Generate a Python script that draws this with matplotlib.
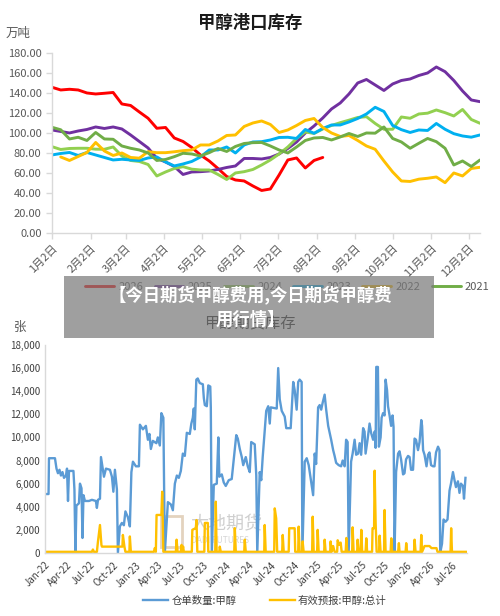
import matplotlib
matplotlib.use('Agg')
import matplotlib.pyplot as plt
import matplotlib.dates as mdates
from matplotlib.patches import Rectangle
from matplotlib.ticker import FuncFormatter
import numpy as np
import pandas as pd

plt.rcParams['font.family'] = ['Noto Sans CJK SC', 'DejaVu Sans']

# ---- 图1: 甲醇港口库存 (万吨), 周度 ----
semanas = pd.date_range('2021-01-02', periods=50, freq='7D')
anos = ['2026', '2025', '2024', '2023', '2022', '2021']
cores = ['#FF0000', '#7030A0', '#92D050', '#00B0F0', '#FFC000', '#70AD47']

s2026 = [145.7, 143.0, 143.7, 143.0, 140.0, 139.0, 139.7, 140.5, 129.0, 127.5,
         121.0, 114.7, 104.7, 105.5, 95.0, 91.5, 85.5, 78.0, 72.0, 64.5,
         56.5, 53.0, 52.0, 47.0, 42.5, 44.0, 58.0, 73.0, 75.0, 65.0,
         72.5, 75.5]
s2025 = [103, 101.5, 100, 102, 103.5, 106, 104.5, 106, 104, 98,
         91.5, 85, 74.7, 71, 66.5, 58.5, 61, 61.3, 62, 63.5,
         65.5, 67, 74.5, 74.5, 74, 75.5, 79, 84.5, 91, 100,
         107, 115, 124, 130, 139, 150, 153.5, 148, 142.5, 149,
         152.5, 154, 157.5, 160, 166, 161.3, 152.5, 142, 133, 131.3]
s2024 = [86.3, 83.5, 84.5, 84.7, 84.7, 83.8, 83.7, 86, 77, 72.5,
         71.5, 68.5, 57, 61, 64.5, 66.3, 63.8, 63, 63, 58.5,
         53.5, 60, 61.3, 63.5, 68, 73, 79, 86, 94.5, 101,
         99.5, 104, 107.5, 110.3, 112.8, 115.5, 116.3, 109.5, 103.7, 103.7,
         116, 114.7, 119, 119.8, 123, 120.3, 117, 123.5, 113.5, 109.7]
s2023 = [78, 79.5, 80.5, 77.5, 80.5, 78, 75.5, 73, 73.7, 73,
         72.5, 75, 76, 71, 67, 69, 71.5, 76, 83, 83,
         86, 80, 88, 91, 91.3, 93, 95.5, 95.7, 94.5, 103.5,
         99.7, 104.5, 108, 108, 111, 114.5, 119, 125.7, 121.5, 107.5,
         103.3, 100.5, 103, 102.5, 109.5, 103.7, 99.3, 97, 95.8, 98]
s2022 = [np.nan, 76, 72.5, 76.5, 80.5, 90.5, 82, 77.5, 80, 75.5,
         74.8, 81.3, 80.3, 80.3, 81.2, 82.3, 83, 88, 88, 92,
         97.5, 98, 106.5, 110, 112, 108.5, 100.5, 103, 107.5, 112.5,
         114.5, 105.5, 100, 96.5, 97.5, 92.5, 87, 83.7, 72, 61,
         52, 51.5, 53.8, 54.7, 56, 50.3, 60, 57, 64.5, 65.7]
s2021 = [105.7, 103.2, 94, 95.7, 92.5, 100.5, 94, 93.7, 87, 84.7,
         83, 80, 72.5, 73.5, 76.3, 79.7, 79, 77, 80.3, 84.5,
         81.5, 86.5, 89.5, 90.3, 90.5, 87, 83, 80, 86, 92.5,
         95, 95.5, 93, 96, 99.5, 96.5, 100, 99.8, 106, 94.5,
         91, 84.7, 89.7, 94.5, 91.3, 84.7, 68, 72, 66.5, 73]
series = [s2026, s2025, s2024, s2023, s2022, s2021]

# ---- 图2: 甲醇期货库存 (张) ----
inicio = pd.Timestamp('2022-01-01')
# anos decorridos desde jan-22
recibo_t = [0.000, 0.039, 0.044, 0.110, 0.127, 0.143, 0.160, 0.176, 0.193, 0.210,
            0.232, 0.243, 0.254, 0.265, 0.314, 0.325, 0.336, 0.347, 0.375, 0.386,
            0.403, 0.414, 0.425, 0.441, 0.485, 0.518, 0.562, 0.573, 0.585, 0.607,
            0.618, 0.634, 0.651, 0.673, 0.717, 0.739, 0.755, 0.772, 0.794, 0.805,
            0.827, 0.849, 0.871, 0.888, 0.915, 0.937, 0.954, 0.971, 1.004, 1.037,
            1.048, 1.081, 1.114, 1.136, 1.153, 1.169, 1.191, 1.230, 1.246, 1.268,
            1.285, 1.307, 1.323, 1.357, 1.390, 1.412, 1.434, 1.456, 1.478, 1.500,
            1.522, 1.544, 1.566, 1.599, 1.616, 1.632, 1.643, 1.654, 1.671, 1.687,
            1.709, 1.743, 1.754, 1.765, 1.787, 1.803, 1.825, 1.831, 1.842, 1.864,
            1.897, 1.914, 1.925, 1.952, 1.974, 1.996, 2.029, 2.062, 2.112, 2.129,
            2.151, 2.173, 2.189, 2.217, 2.239, 2.261, 2.277, 2.316, 2.333, 2.344,
            2.371, 2.388, 2.404, 2.443, 2.465, 2.482, 2.493, 2.559, 2.575, 2.592,
            2.614, 2.647, 2.664, 2.713, 2.741, 2.757, 2.779, 2.796, 2.812, 2.834,
            2.842, 2.868, 2.890, 2.912, 2.939, 2.961, 2.978, 2.994, 3.016, 3.033,
            3.050, 3.066, 3.088, 3.105, 3.127, 3.160, 3.182, 3.198, 3.215, 3.243,
            3.270, 3.287, 3.309, 3.325, 3.342, 3.353, 3.380, 3.397, 3.419, 3.436,
            3.458, 3.474, 3.491, 3.513, 3.529, 3.540, 3.562, 3.584, 3.601, 3.623,
            3.640, 3.651, 3.658, 3.676, 3.687, 3.706, 3.717, 3.733, 3.750, 3.761,
            3.777, 3.788, 3.805, 3.822, 3.838, 3.849, 3.860, 3.877, 3.899, 3.915,
            3.932, 3.954, 3.970, 3.987, 4.009, 4.026, 4.042, 4.064, 4.081, 4.097,
            4.119, 4.136, 4.155, 4.164, 4.175, 4.191, 4.213, 4.230, 4.246, 4.263,
            4.285, 4.301, 4.318, 4.340, 4.356, 4.364, 4.384, 4.401, 4.423, 4.445,
            4.467, 4.483, 4.505, 4.522, 4.538, 4.560, 4.577, 4.593, 4.616, 4.627,
            4.643]
recibo_v = [5100, 5100, 8200, 8200, 7300, 6900, 7200, 6700, 7000, 6500,
            6700, 7300, 4500, 7100, 7100, 5500, 0, 4100, 4300, 6000,
            5600, 1300, 5000, 4500, 4500, 4600, 4500, 3900, 4600, 4700,
            8300, 7500, 6600, 7300, 7200, 6600, 5300, 7200, 5500, 0,
            2300, 2600, 2400, 3600, 3100, 2300, 7000, 7900, 7500, 7500,
            11100, 10700, 11000, 9800, 10300, 9000, 9700, 9500, 10000, 9300,
            12100, 11700, 0, 4400, 4200, 3700, 6000, 6700, 6500, 7100,
            8600, 8400, 10400, 10300, 11200, 11700, 12500, 10700, 15000, 15100,
            14700, 14600, 13400, 12800, 12700, 14500, 14400, 12600, 0, 5900,
            6000, 10000, 6600, 6800, 6100, 5800, 6300, 6400, 10200, 9900,
            9000, 8300, 7600, 8300, 7500, 7000, 9600, 9400, 6700, 0,
            7000, 6300, 8300, 12300, 12700, 11200, 12600, 12500, 16000, 13300,
            12300, 11800, 10800, 10800, 14800, 14100, 12400, 14800, 15000, 14800,
            0, 7900, 8200, 7600, 6200, 5000, 8600, 7700, 12600, 12800,
            12400, 13000, 13700, 12400, 11000, 9800, 8900, 8400, 7800, 7600,
            7500, 8000, 7500, 9800, 9600, 0, 7900, 8600, 9800, 8500,
            8600, 9500, 8500, 10800, 10500, 8600, 9800, 11200, 10400, 9800,
            10500, 9100, 16100, 16100, 9200, 10000, 11700, 12100, 11900, 15000,
            14100, 12700, 11900, 11000, 11900, 10900, 0, 7000, 8600, 8800,
            8100, 6800, 6900, 8100, 8400, 8300, 7200, 7200, 9900, 9800,
            8900, 9600, 11500, 11000, 8900, 8500, 7500, 8500, 8700, 7600,
            7500, 7500, 8700, 9200, 8900, 0, 800, 2900, 2700, 2900,
            5400, 6000, 7000, 6300, 5700, 6200, 5200, 6000, 5800, 4700,
            6500]

previsao_t = [0.000, 0.518, 0.529, 0.540, 0.573, 0.585, 0.607, 0.623, 0.629, 0.855,
              0.860, 0.877, 0.888, 0.932, 0.937, 0.948, 1.202, 1.213, 1.224, 1.232,
              1.285, 1.294, 1.307, 1.445, 1.453, 1.464, 1.500, 1.508, 1.516, 1.525,
              1.533, 1.621, 1.627, 1.665, 1.673, 1.682, 1.759, 1.765, 1.798, 1.803,
              1.880, 1.886, 1.895, 1.925, 1.930, 1.941, 2.090, 2.096, 2.107, 2.200,
              2.206, 2.217, 2.421, 2.426, 2.437, 2.531, 2.537, 2.553, 2.564, 2.619,
              2.625, 2.636, 2.691, 2.697, 2.757, 2.763, 2.796, 2.801, 2.812, 2.840,
              2.845, 2.856, 2.950, 2.956, 2.967, 3.005, 3.011, 3.022, 3.083, 3.088,
              3.099, 3.149, 3.154, 3.165, 3.182, 3.198, 3.226, 3.232, 3.248, 3.265,
              3.276, 3.320, 3.328, 3.337, 3.392, 3.397, 3.408, 3.447, 3.452, 3.463,
              3.485, 3.493, 3.502, 3.540, 3.548, 3.557, 3.612, 3.617, 3.634, 3.640,
              3.651, 3.662, 3.689, 3.695, 3.706, 3.744, 3.750, 3.761, 3.816, 3.824,
              3.833, 3.899, 3.908, 3.915, 3.982, 3.989, 3.998, 4.075, 4.081, 4.092,
              4.147, 4.155, 4.164, 4.191, 4.246, 4.268, 4.323, 4.334, 4.478, 4.485,
              4.494, 4.654]
previsao_v = [100, 100, 300, 100, 100, 1000, 2420, 700, 550, 550,
              1560, 550, 100, 100, 1430, 100, 100, 430, 100, 3290,
              3290, 5300, 100, 100, 1150, 100, 100, 700, 100, 560,
              100, 100, 2000, 2150, 2850, 100, 100, 2600, 2600, 100,
              100, 4440, 100, 100, 550, 100, 100, 2150, 100, 100,
              1150, 100, 100, 2420, 100, 100, 3860, 2990, 100, 100,
              1560, 100, 100, 2140, 2140, 100, 100, 2280, 100, 100,
              1000, 100, 100, 3140, 100, 100, 2000, 100, 100, 1150,
              100, 100, 1000, 100, 600, 100, 100, 1100, 700, 900,
              100, 100, 1300, 100, 100, 2220, 100, 100, 1150, 100,
              100, 2000, 100, 100, 1270, 100, 100, 2140, 2140, 7120,
              2600, 100, 100, 1500, 100, 100, 3720, 100, 100, 1270,
              100, 100, 850, 100, 100, 850, 100, 100, 1150, 100,
              100, 1560, 100, 600, 600, 420, 420, 100, 100, 2140,
              100, 100]


def para_data(t):
    return inicio + pd.to_timedelta(np.array(t) * 365.25, unit='D')


fig = plt.figure(figsize=(5, 6.16), dpi=100)

# ---------- 上图 ----------
ax1 = fig.add_axes([0.104, 0.6218, 0.856, 0.2922])
for s, c, a in zip(series, cores, anos):
    ax1.plot(semanas[:len(s)], s, color=c, lw=2.1, label=a, solid_capstyle='round')

ax1.set_ylim(0, 180)
ax1.set_yticks(np.arange(0, 181, 20))
ax1.yaxis.set_major_formatter(FuncFormatter(lambda v, p: f'{v:.2f}'))
ax1.set_xlim(semanas[0], semanas[-1])
meses = [pd.Timestamp(2021, m, 2) for m in range(1, 13)]
ax1.set_xticks(meses)
ax1.set_xticklabels([f'{m.month}月2日' for m in meses], rotation=45,
                    ha='right', rotation_mode='anchor')
for lado in ['top', 'right']:
    ax1.spines[lado].set_visible(False)
for lado in ['left', 'bottom']:
    ax1.spines[lado].set_color('#D9D9D9')
    ax1.spines[lado].set_linewidth(1.0)
ax1.tick_params(axis='both', colors='#D9D9D9', labelcolor='#595959',
                labelsize=8, length=4, width=1.0)
ax1.tick_params(axis='x', pad=3)

fig.text(0.5, 0.962, '甲醇港口库存', ha='center', va='center',
         fontsize=12.5, fontweight='bold', color='#1a1a1a')
fig.text(0.012, 0.946, '万吨', ha='left', va='center', fontsize=9, color='#595959')

leg1 = fig.legend(*ax1.get_legend_handles_labels(), loc='center',
                  bbox_to_anchor=(0.575, 0.534), ncol=6, frameon=False,
                  fontsize=8, handlelength=2.6, columnspacing=1.0,
                  handletextpad=0.4, labelcolor='#595959')

# ---------- 下图 ----------
ax2 = fig.add_axes([0.09, 0.1023, 0.844, 0.3377])
ax2.plot(para_data(recibo_t), recibo_v, color='#5B9BD5', lw=1.7, label='仓单数量:甲醇')
ax2.plot(para_data(previsao_t), previsao_v, color='#FFC000', lw=1.7,
         label='有效预报:甲醇:总计')
ax2.set_ylim(0, 18000)
ax2.set_yticks(np.arange(0, 18001, 2000))
ax2.yaxis.set_major_formatter(FuncFormatter(lambda v, p: f'{int(v):,}'))
ax2.set_xlim(para_data([0.0])[0], para_data([4.66])[0])
ax2.xaxis.set_major_locator(mdates.MonthLocator(bymonth=[1, 4, 7, 10]))
ax2.xaxis.set_major_formatter(mdates.DateFormatter('%b-%y'))
plt.setp(ax2.get_xticklabels(), rotation=45, ha='right', rotation_mode='anchor')
for lado in ['top', 'right']:
    ax2.spines[lado].set_visible(False)
for lado in ['left', 'bottom']:
    ax2.spines[lado].set_color('#D9D9D9')
    ax2.spines[lado].set_linewidth(1.0)
ax2.tick_params(axis='both', length=0, labelcolor='#404040', labelsize=7)
ax2.tick_params(axis='x', pad=5)

# marca d'agua
ax2.text(0.345, 0.14, '大地期货', transform=ax2.transAxes, fontsize=13,
         color='#CFCFCF', ha='left', va='center', zorder=0)
ax2.text(0.345, 0.06, 'DADI FUTURES', transform=ax2.transAxes, fontsize=6,
         color='#D6D6D6', ha='left', va='center', zorder=0)
ax2.add_patch(Rectangle((0.275, 0.03), 0.05, 0.15, transform=ax2.transAxes,
                        facecolor='none', edgecolor='#E3D3BE', lw=2, zorder=0))

fig.text(0.5, 0.476, '甲醇期货库存', ha='center', va='center', fontsize=11,
         color='#1a1a1a')
fig.text(0.04, 0.468, '张', ha='center', va='center', fontsize=9, color='#595959')

fig.legend(*ax2.get_legend_handles_labels(), loc='center',
           bbox_to_anchor=(0.53, 0.025), ncol=2, frameon=False, fontsize=7.5,
           handlelength=2.4, columnspacing=3.2, handletextpad=0.3,
           labelcolor='#404040')

# ---------- faixa cinza do título ----------
faixa = Rectangle((0.128, 0.4513), 0.74, 0.1006, transform=fig.transFigure,
                  facecolor='#7a7a7a', alpha=0.72, edgecolor='none', zorder=10)
fig.add_artist(faixa)
fig.text(0.5, 0.502, '【今日期货甲醇费用,今日期货甲醇费\n用行情】', ha='center',
         va='center', fontsize=12.5, fontweight='bold', color='white',
         linespacing=1.45, zorder=11)

fig.savefig('out.png', dpi=100)
